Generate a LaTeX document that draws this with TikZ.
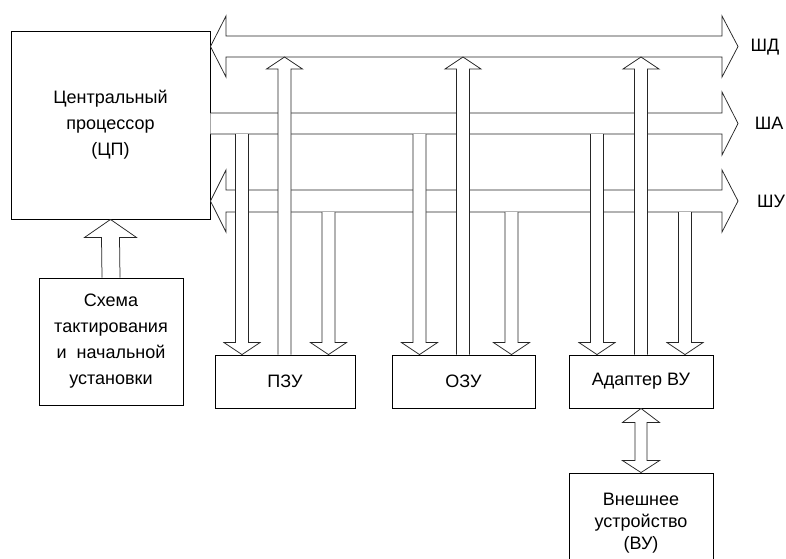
\documentclass[tikz,border=0pt]{standalone}
\usepackage{fontspec}
\setmainfont{Liberation Sans}
\usetikzlibrary{calc}
\tikzset{
  box/.style={draw, line width=0.9pt, align=center, inner sep=0pt},
  blk/.style={draw=black!85, line width=0.75pt, fill=white},
  buslabel/.style={inner sep=0pt, anchor=center}
}
% down block arrow from a bus line to the top of a node
\newcommand\dnarr[3]{%
  \coordinate (S) at (#1,0 |- #2);
  \coordinate (T) at (#1,0 |- #3.north);
  \draw[blk] ($(S)+(-6.5,0)$) -- ($(T)+(-6.5,-12)$) -- ($(T)+(-18,-12)$) -- (T)
     -- ($(T)+(18,-12)$) -- ($(T)+(6.5,-12)$) -- ($(S)+(6.5,0)$);
}
% up block arrow from the top of a node to a bus line
\newcommand\uparr[3]{%
  \coordinate (S) at (#1,0 |- #3.north);
  \coordinate (T) at (#1,0 |- #2);
  \draw[blk] ($(S)+(-6.5,0)$) -- ($(T)+(-6.5,12)$) -- ($(T)+(-18,12)$) -- (T)
     -- ($(T)+(18,12)$) -- ($(T)+(6.5,12)$) -- ($(S)+(6.5,0)$);
}
\begin{document}
\begin{tikzpicture}[x=1pt,y=-1pt,font=\fontsize{18}{26}\selectfont]
\useasboundingbox (0,0) rectangle (786,558);

% nodes
\node[box, minimum width=199pt, minimum height=188pt] (cpu) at (110.5,125)
  {Центральный\\процессор\\(ЦП)};
\node[box, minimum width=144pt, minimum height=127pt] (clk) at (111,341.5)
  {Схема\\тактирования\\и~ начальной\\установки};
\node[box, minimum width=140pt, minimum height=53pt] (pzu) at (285,381.5) {ПЗУ};
\node[box, minimum width=143pt, minimum height=53pt] (ozu) at (463.5,381.5) {ОЗУ};
\node[box, minimum width=144pt, minimum height=53pt] (adp) at (641,381.5) {Адаптер ВУ};
\node[box, minimum width=144pt, minimum height=100pt, font=\fontsize{18}{22}\selectfont] (vu) at (641,523)
  {Внешнее\\устройство\\(ВУ)};

% bus labels
\node[buslabel] (lshd) at (765,47) {ШД};
\node[buslabel] (lsha) at (769,123) {ША};
\node[buslabel] (lshu) at (771,201) {ШУ};

% bus coordinates (lower lines)
\coordinate (shdB) at (0,57);
\coordinate (shaB) at (0,134);
\coordinate (shuB) at (0,212);

% data bus (two-way)
\draw[blk] (226,36) -- (722,36) -- (722,16) -- (738,46.5) -- (722,77) -- (722,57)
  -- (226,57) -- (226,77) -- (cpu.east |- 0,46.5) -- (226,16) -- cycle;
% address bus (one-way, from CPU)
\draw[blk] (cpu.east |- 0,113) -- (722,113) -- (722,92) -- (738,123.5) -- (722,155)
  -- (722,134) -- (cpu.east |- 0,134);
% control bus (two-way)
\draw[blk] (226,190) -- (722,190) -- (722,170) -- (738,201) -- (722,232) -- (722,212)
  -- (226,212) -- (226,232) -- (cpu.east |- 0,201) -- (226,170) -- cycle;

% ПЗУ
\dnarr{242}{shaB}{pzu}
\uparr{284.5}{shdB}{pzu}
\dnarr{328.5}{shuB}{pzu}
% ОЗУ
\dnarr{419.5}{shaB}{ozu}
\uparr{463}{shdB}{ozu}
\dnarr{511.5}{shuB}{ozu}
% Адаптер ВУ
\dnarr{597}{shaB}{adp}
\uparr{641}{shdB}{adp}
\dnarr{685}{shuB}{adp}

% clock -> CPU
\draw[blk] ($(clk.north)+(-9,0)$) -- ($(cpu.south)+(-9,18)$) -- ($(cpu.south)+(-26,18)$)
  -- (cpu.south) -- ($(cpu.south)+(26,18)$) -- ($(cpu.south)+(9,18)$) -- ($(clk.north)+(9,0)$);

% adapter <-> external device
\draw[blk] (adp.south) -- ($(adp.south)+(18.5,14)$) -- ($(adp.south)+(6,14)$)
  -- ($(vu.north)+(6,-12)$) -- ($(vu.north)+(18.5,-12)$) -- (vu.north)
  -- ($(vu.north)+(-18.5,-12)$) -- ($(vu.north)+(-6,-12)$) -- ($(adp.south)+(-6,14)$)
  -- ($(adp.south)+(-18.5,14)$) -- cycle;
\end{tikzpicture}
\end{document}
